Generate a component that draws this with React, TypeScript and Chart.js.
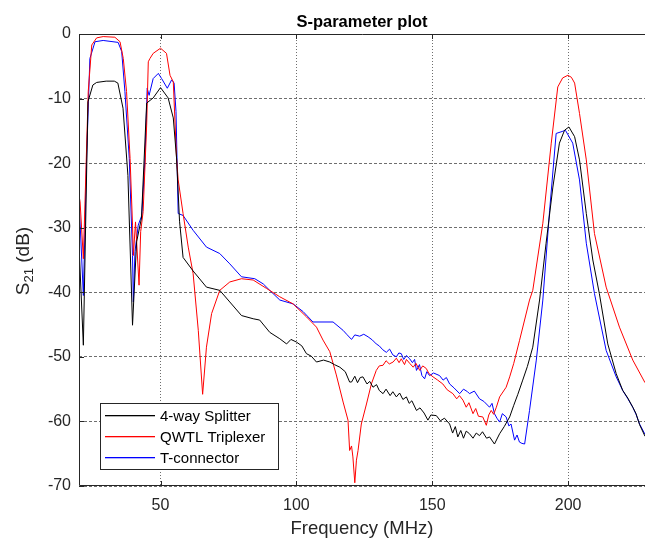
import React, { useEffect, useRef } from "react";
import { Chart, registerables } from "chart.js";

Chart.register(...registerables);

const TITLE = "S-parameter plot";
const X_LABEL = "Frequency (MHz)";
const Y_LABEL_MAIN = "S";
const Y_LABEL_SUB = "21";
const Y_LABEL_REST = " (dB)";
const X_TICKS = [50, 100, 150, 200];
const Y_TICKS = [-70, -60, -50, -40, -30, -20, -10, 0];
const X_MIN = 20;
const X_MAX = 228.3;
const Y_MIN = -70;
const Y_MAX = 0;

const SERIES_NAMES = ["4-way Splitter", "QWTL Triplexer", "T-connector"];
const SERIES_COLORS = ["#000000", "#ff0000", "#0000ff"];

const splitterFreq = [
  20, 21.6, 23.3, 25.1, 26.5, 30, 33, 34.3, 36.2, 38, 39.7, 41.2, 43, 44.9, 47.3, 50, 52.8, 54.7, 55.9, 57,
  58.3, 62, 66.9, 71.8, 75.5, 79.8, 84.1, 86.5, 90.2, 93.9, 96.4, 98, 100, 102, 103.7, 105.5, 107.4, 110, 112.3,
  114, 116, 118, 119.6, 120.3, 121.5, 122.5, 123.5, 124.5, 126, 127, 128.2, 129.5, 130.5, 131.9, 133, 134.5,
  135.5, 136.8, 138, 139.2, 140.5, 141.5, 142.5, 144.2, 145.5, 147, 148.4, 149.5, 151.5, 153, 154.5, 156.4,
  157.5, 158.5, 159.4, 160.5, 161.5, 162.5, 163.7, 165, 166.2, 167.4, 168.5, 170, 171.1, 172.9, 174.8, 176.5,
  178.5, 180, 181.5, 183.3, 185, 187, 189.5, 191.9, 194.4, 196.8, 198.7, 200.3, 202.4, 204.2, 206.7, 209.1,
  211.5, 214.6, 217.7, 220.1, 222, 223.8, 225, 226.3, 228.3,
];
const splitterDb = [
  -32.7, -48.2, -10.5, -7.9, -7.5, -7.3, -7.3, -7.6, -11.5, -21.9, -45.1, -32.2, -28.5, -10.7, -9.9, -8.3, -9.9,
  -13, -19.2, -29, -34.6, -36.7, -39.2, -39.7, -41.5, -43.6, -44.1, -44.3, -46.2, -47.2, -48, -47.3, -47.7,
  -48.3, -49.5, -49.9, -50.8, -50.5, -50.8, -51.2, -51.6, -52.3, -53.9, -53.9, -53, -54, -53.2, -53.1, -54.2,
  -53.8, -54.7, -54.3, -55.2, -55.7, -55, -56, -55.4, -56.2, -55.6, -56.6, -56.2, -57.2, -56.8, -58.3, -57.9,
  -58.7, -59.8, -59, -59.1, -59.9, -59.5, -60.4, -61.8, -60.8, -62.4, -61.4, -62.6, -61.5, -61.9, -62.6,
  -61.8, -62.2, -61.6, -62.6, -62.4, -63.5, -61.9, -60.8, -59.3, -57.5, -55.8, -53.6, -51.5, -48.5, -41.2,
  -32.4, -23.7, -16.9, -14.9, -14.4, -15.9, -19.5, -27.8, -35, -40.2, -48, -52.6, -55.2, -56.4, -57.8, -58.8,
  -60.5, -62.3,
];

const triplexerFreq = [
  20, 20.4, 21.6, 23.4, 24.7, 26.5, 28.9, 33.2, 35.1, 36.3, 37.5, 38.8, 39.7, 40, 40.8, 42.1, 42.7, 43.6, 44.9,
  45.5, 46.1, 47.3, 50, 52.2, 53.5, 54.7, 55.9, 56.5, 58.3, 60.2, 62, 63.9, 65.5, 66.9, 68.8, 71.8, 75.5,
  79.8, 84.1, 89, 93.9, 98.8, 103.7, 107.4, 109.8, 112.3, 114.7, 117.2, 119, 119.6, 120.3, 120.8, 121.5,
  122.1, 122.7, 123.9, 125.8, 127.6, 129.4, 130.5, 131.9, 133, 134.2, 135.6, 136.8, 137.8, 138.6, 139.8,
  140.5, 141.7, 143, 144, 145.4, 146.5, 147.8, 148.8, 150.3, 152, 153.9, 155.5, 157.6, 159, 160, 161.3,
  162.5, 163.5, 165, 166, 167, 168.6, 169.9, 170.8, 171.7, 172.6, 173.6, 174.8, 177.2, 178.5, 180, 182.1,
  185.8, 187, 190.7, 193.8, 196.2, 198, 199.9, 201.2, 202.4, 204.2, 206.7, 209.7, 214, 218.9, 223.8, 228.3,
];
const triplexerDb = [
  -25, -26, -34.8, -8.9, -1.7, -0.6, -0.4, -0.5, -1.2, -3.8, -8.9, -19.3, -29.6, -34.3, -29.1, -38.9, -30.6,
  -27.5, -14.1, -4.3, -3.8, -3, -2.2, -3, -6.4, -7.4, -19.3, -22.6, -27.8, -33, -37.1, -45.9, -55.8, -48.5,
  -43.3, -39.7, -38.4, -37.9, -38.1, -39.4, -40.7, -41.8, -43.8, -45.4, -47.4, -49.2, -52.8, -57, -59.8,
  -64.5, -63.8, -65.5, -69.5, -66, -64.5, -60.4, -57.3, -54.2, -52.1, -51.4, -51.3, -50.6, -51.1, -50.8,
  -50.2, -50.9, -50.3, -51.2, -50.4, -51, -51.6, -51, -52.1, -51.4, -51.8, -52.6, -53.1, -53.6, -54.2, -55.1,
  -55.7, -56.5, -56, -56.7, -57.8, -57.1, -58.8, -58, -59.2, -59.3, -60.6, -59, -58.3, -58.9, -57.8, -56.2,
  -54.7, -53.1, -51, -47.5, -41.2, -39.7, -29.3, -16.9, -8.2, -6.8, -6.4, -6.7, -7.6, -12.3, -19.5, -30.9,
  -39.2, -45.4, -50.5, -54,
];

const tconnFreq = [
  20, 21.6, 22.8, 24, 25.9, 28.9, 34.4, 35.7, 36.9, 38.5, 39.7, 40, 40.6, 41.8, 43.1, 44.3, 45.1, 45.8, 47.3,
  49.2, 50.4, 52.5, 54.1, 55, 55.7, 56.5, 58.3, 62, 66.9, 71.8, 75.5, 79.8, 84.7, 87.8, 90.2, 93.9, 98.8,
  102.5, 106.1, 109.8, 113.5, 117.2, 118.5, 120.3, 121.5, 123.3, 124.8, 126.4, 128, 129.4, 130.5, 131.8,
  133.1, 134.3, 135.5, 136.8, 137.7, 138.6, 139.5, 140.5, 141.7, 142.7, 143.5, 144.2, 145.3, 146.2, 147.2,
  148, 149, 150.5, 152.7, 154, 155.2, 156.4, 158, 160.1, 161.5, 163, 163.7, 165.5, 167.4, 169, 171.1, 172,
  172.9, 173.8, 174.8, 175.8, 177.2, 178.2, 179, 180.3, 181.2, 182.1, 183, 184, 185.8, 188.3, 190.7, 193.2,
  195.6, 197.8, 199, 201.7, 204.2, 206.7, 209.7, 214, 217.7, 220.1, 222, 223.8, 225, 226.3, 228.3,
];
const tconnDb = [
  -25.5, -40.5, -19.2, -3.8, -1.2, -1, -1.3, -2.7, -8.9, -19.3, -34.3, -41.5, -33.7, -29.6, -28.1, -19.2, -8.4,
  -9.5, -6.9, -6.1, -6.9, -8.4, -7.1, -7.6, -12, -27.8, -28.1, -30.4, -33, -34, -35.6, -37.6, -37.9, -38.7,
  -39.7, -41.2, -41.8, -43, -44.6, -44.6, -44.6, -45.9, -46.5, -47.3, -46.6, -46.8, -46.5, -46.9, -47.4,
  -48, -48.3, -48.9, -49.3, -48.8, -49.7, -50, -49.4, -49.5, -50.4, -49.8, -50.3, -50.9, -50.4, -52.1,
  -51.2, -52.9, -53.4, -52.3, -52.9, -52.5, -52.9, -53.6, -53.2, -54.2, -54.8, -55.7, -55, -55.4, -55.7,
  -55.3, -56.5, -56.9, -57.8, -57.2, -58.8, -59.5, -60.1, -58.8, -59.3, -60.7, -60.4, -62.9, -62.1, -63.2,
  -63.4, -63.5, -58.3, -50.5, -41.2, -27.3, -15.4, -15.1, -14.9, -16.9, -22.6, -32.4, -40.2, -49, -53.1,
  -55.2, -56.5, -57.8, -58.9, -60.4, -62,
];

const FONT = '"Liberation Sans", Arial, Helvetica, sans-serif';

const toPoints = (xs: number[], ys: number[]) => xs.map((x, i) => ({ x, y: ys[i] }));

const decorPlugin = {
  id: "decor",
  afterDraw(chart: any) {
    const { ctx, chartArea: a } = chart;
    const xs = chart.scales.x;
    const ys = chart.scales.y;
    ctx.save();
    // frame (top, left, bottom)
    ctx.strokeStyle = "#262626";
    ctx.lineWidth = 1;
    ctx.setLineDash([]);
    ctx.beginPath();
    ctx.moveTo(a.right, a.top + 0.5);
    ctx.lineTo(a.left + 0.5, a.top + 0.5);
    ctx.lineTo(a.left + 0.5, a.bottom - 0.5);
    ctx.lineTo(a.right, a.bottom - 0.5);
    ctx.stroke();
    // inward ticks
    ctx.beginPath();
    for (const v of Y_TICKS) {
      const py = Math.round(ys.getPixelForValue(v)) + 0.5;
      ctx.moveTo(a.left, py);
      ctx.lineTo(a.left + 5, py);
    }
    for (const v of X_TICKS) {
      const px = Math.round(xs.getPixelForValue(v)) + 0.5;
      ctx.moveTo(px, a.bottom);
      ctx.lineTo(px, a.bottom - 5);
      ctx.moveTo(px, a.top);
      ctx.lineTo(px, a.top + 5);
    }
    ctx.stroke();

    // title
    ctx.fillStyle = "#000";
    ctx.textAlign = "center";
    ctx.textBaseline = "alphabetic";
    ctx.font = `bold 16.5px ${FONT}`;
    ctx.fillText(TITLE, (a.left + a.right) / 2, 27);

    // x label
    ctx.fillStyle = "#262626";
    ctx.font = `18.5px ${FONT}`;
    ctx.fillText(X_LABEL, (a.left + a.right) / 2, 534);

    // y label with subscript
    ctx.save();
    ctx.translate(29, (a.top + a.bottom) / 2 + 1);
    ctx.rotate(-Math.PI / 2);
    ctx.textAlign = "left";
    ctx.font = `19px ${FONT}`;
    const wS = ctx.measureText(Y_LABEL_MAIN).width;
    const wR = ctx.measureText(Y_LABEL_REST).width;
    ctx.font = `13px ${FONT}`;
    const w21 = ctx.measureText(Y_LABEL_SUB).width;
    let sx = -(wS + w21 + wR) / 2;
    ctx.font = `19px ${FONT}`;
    ctx.fillText(Y_LABEL_MAIN, sx, 0);
    sx += wS;
    ctx.font = `13px ${FONT}`;
    ctx.fillText(Y_LABEL_SUB, sx, 4);
    sx += w21;
    ctx.font = `19px ${FONT}`;
    ctx.fillText(Y_LABEL_REST, sx, 0);
    ctx.restore();

    // legend
    const lx = 100, ly = 403, lw = 178, lh = 66;
    ctx.fillStyle = "#fff";
    ctx.fillRect(lx, ly, lw, lh);
    ctx.strokeStyle = "#262626";
    ctx.strokeRect(lx + 0.5, ly + 0.5, lw, lh);
    ctx.font = `15px ${FONT}`;
    ctx.textAlign = "left";
    ctx.textBaseline = "middle";
    SERIES_NAMES.forEach((name, i) => {
      const yy = ly + 12 + i * 21;
      ctx.fillStyle = SERIES_COLORS[i];
      ctx.fillRect(lx + 5, yy, 50, 1.3);
      ctx.fillStyle = "#000";
      ctx.fillText(name, lx + 60, yy + 1.5);
    });
    ctx.restore();
  },
};

export default function App() {
  const ref = useRef<HTMLCanvasElement | null>(null);
  useEffect(() => {
    if (!ref.current) return;
    const seriesData = [
      toPoints(splitterFreq, splitterDb),
      toPoints(triplexerFreq, triplexerDb),
      toPoints(tconnFreq, tconnDb),
    ];
    const chart = new Chart(ref.current, {
      type: "line",
      data: {
        datasets: seriesData.map((d, i) => ({
          label: SERIES_NAMES[i],
          data: d,
          borderColor: SERIES_COLORS[i],
          backgroundColor: SERIES_COLORS[i],
          borderWidth: 1,
          pointRadius: 0,
          tension: 0,
          fill: false,
        })),
      },
      options: {
        responsive: false,
        animation: false,
        layout: { padding: { top: 34, left: 0, right: 0, bottom: 0 } },
        plugins: { legend: { display: false }, tooltip: { enabled: false }, title: { display: false } },
        scales: {
          x: {
            type: "linear",
            min: X_MIN,
            max: X_MAX,
            afterBuildTicks: (s: any) => {
              s.ticks = X_TICKS.map((v) => ({ value: v }));
            },
            afterFit: (s: any) => {
              s.height = 59;
            },
            grid: { color: "#6e6e6e", drawTicks: false, lineWidth: 1 },
            border: { display: false, dash: [1, 2] },
            ticks: { color: "#262626", font: { family: FONT, size: 16 }, padding: 10, maxRotation: 0 },
          },
          y: {
            type: "linear",
            min: Y_MIN,
            max: Y_MAX,
            afterBuildTicks: (s: any) => {
              s.ticks = Y_TICKS.map((v) => ({ value: v }));
            },
            afterFit: (s: any) => {
              s.width = 79;
            },
            grid: { color: "#6e6e6e", drawTicks: false, lineWidth: 1 },
            border: { display: false, dash: [3, 2] },
            ticks: { color: "#262626", font: { family: FONT, size: 16 }, padding: 8 },
          },
        },
      },
      plugins: [decorPlugin],
    });
    return () => chart.destroy();
  }, []);
  return (
    <canvas
      ref={ref}
      width={645}
      height={545}
      style={{ position: "fixed", left: 0, top: 0, width: 645, height: 545, background: "#fff" }}
    />
  );
}
